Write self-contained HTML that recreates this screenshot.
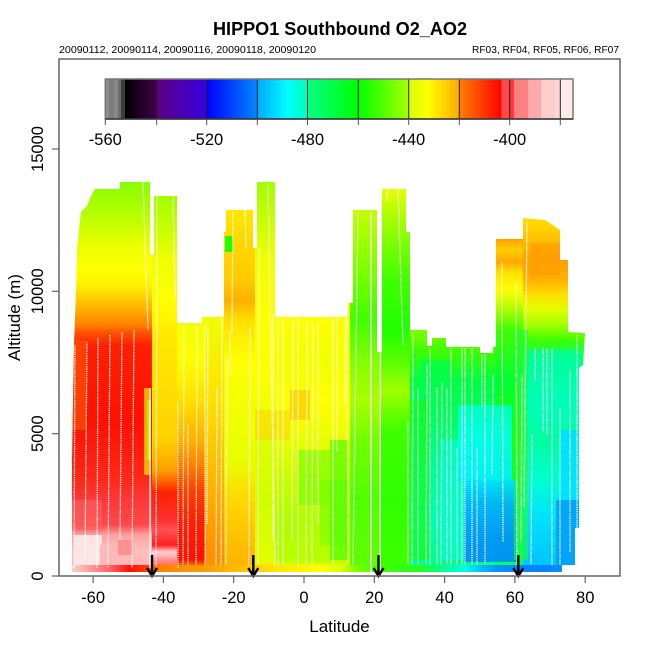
<!DOCTYPE html>
<html><head><meta charset="utf-8"><style>
html,body{margin:0;padding:0;background:#fff;}
svg{display:block;}
text{font-family:"Liberation Sans",Arial,sans-serif;fill:#000;}
</style></head><body>
<svg width="650" height="650" viewBox="0 0 650 650" xmlns="http://www.w3.org/2000/svg">
<defs>
<clipPath id="env"><polygon points="72,572 72,460 74,345 76,290 77,248 81,212 87,206 91,196 95,189 120,189 120,182 150,182 150,255 154,255 154,196 177,196 177,323 202,323 202,317 224,317 224,232 226,232 226,210 253,210 253,248 257,248 257,182 275,182 275,317 348,317 348,303 353,303 353,210 377,210 377,352 382,352 382,189 406,189 406,232 410,232 410,330 427,330 427,346 432,346 432,338 446,338 446,347 480,347 480,353 493,353 493,347 496,347 496,239 523,239 523,218 545,220 560,230 560,260 568,260 568,332 585,333 583,365 579,368 579,528 575,528 575,565 562,565 562,572"/></clipPath>
<linearGradient id="gA" gradientUnits="userSpaceOnUse" x1="0" y1="182" x2="0" y2="572">
<stop offset="0" stop-color="#88ff00"/><stop offset="0.046" stop-color="#a0ff00"/><stop offset="0.11" stop-color="#c8ff00"/><stop offset="0.162" stop-color="#eaff00"/><stop offset="0.226" stop-color="#ffff00"/><stop offset="0.265" stop-color="#fff000"/><stop offset="0.303" stop-color="#ffc800"/><stop offset="0.341" stop-color="#ffa000"/><stop offset="0.367" stop-color="#ff8000"/><stop offset="0.387" stop-color="#ff5000"/><stop offset="0.418" stop-color="#ff2000"/><stop offset="0.61" stop-color="#ff1000"/><stop offset="0.764" stop-color="#ff2818"/><stop offset="0.815" stop-color="#ff3838"/><stop offset="0.879" stop-color="#ff4848"/><stop offset="0.905" stop-color="#ffa0a0"/><stop offset="0.944" stop-color="#ffc0c0"/><stop offset="1" stop-color="#ffb0b0"/>
</linearGradient>
<linearGradient id="gB" gradientUnits="userSpaceOnUse" x1="0" y1="182" x2="0" y2="572">
<stop offset="0.036" stop-color="#a0ff00"/><stop offset="0.123" stop-color="#c8ff00"/><stop offset="0.2" stop-color="#f0ff00"/><stop offset="0.303" stop-color="#ffff00"/><stop offset="0.405" stop-color="#ffe800"/><stop offset="0.508" stop-color="#ffe000"/><stop offset="0.662" stop-color="#ffd000"/><stop offset="0.738" stop-color="#ffa000"/><stop offset="0.769" stop-color="#ff6000"/><stop offset="0.795" stop-color="#ff2000"/><stop offset="0.867" stop-color="#ff3030"/><stop offset="0.892" stop-color="#ff5050"/><stop offset="0.931" stop-color="#ff2020"/><stop offset="0.949" stop-color="#ffd0d0"/><stop offset="0.974" stop-color="#ff8080"/><stop offset="1" stop-color="#ff6000"/>
</linearGradient>
<linearGradient id="gC1" gradientUnits="userSpaceOnUse" x1="0" y1="182" x2="0" y2="572">
<stop offset="0.346" stop-color="#f0ff00"/><stop offset="0.456" stop-color="#ffff00"/><stop offset="0.559" stop-color="#ffe000"/><stop offset="0.662" stop-color="#ffb000"/><stop offset="0.726" stop-color="#ff8000"/><stop offset="0.79" stop-color="#ff4000"/><stop offset="0.867" stop-color="#ff2000"/><stop offset="0.969" stop-color="#ff1000"/><stop offset="0.985" stop-color="#ff8000"/><stop offset="1" stop-color="#ffa000"/>
</linearGradient>
<linearGradient id="gC2" gradientUnits="userSpaceOnUse" x1="0" y1="182" x2="0" y2="572">
<stop offset="0.346" stop-color="#f0ff00"/><stop offset="0.559" stop-color="#ffe000"/><stop offset="0.713" stop-color="#ffc000"/><stop offset="0.867" stop-color="#ffa000"/><stop offset="0.969" stop-color="#ff9000"/><stop offset="1" stop-color="#ffa000"/>
</linearGradient>
<linearGradient id="gD" gradientUnits="userSpaceOnUse" x1="0" y1="182" x2="0" y2="572">
<stop offset="0.072" stop-color="#ffe800"/><stop offset="0.149" stop-color="#ffd800"/><stop offset="0.251" stop-color="#ffcc00"/><stop offset="0.303" stop-color="#ffb000"/><stop offset="0.354" stop-color="#ffe000"/><stop offset="0.456" stop-color="#ffff00"/><stop offset="0.61" stop-color="#f0ff00"/><stop offset="0.713" stop-color="#e8ff00"/><stop offset="0.815" stop-color="#ffd800"/><stop offset="0.918" stop-color="#ffc000"/><stop offset="1" stop-color="#ffb000"/>
</linearGradient>
<linearGradient id="gE" gradientUnits="userSpaceOnUse" x1="0" y1="182" x2="0" y2="572">
<stop offset="0" stop-color="#a0ff00"/><stop offset="0.097" stop-color="#c8ff00"/><stop offset="0.2" stop-color="#f0ff00"/><stop offset="0.354" stop-color="#ffff00"/><stop offset="0.508" stop-color="#ffff00"/><stop offset="0.662" stop-color="#e0ff00"/><stop offset="0.815" stop-color="#d0ff00"/><stop offset="0.969" stop-color="#e0ff00"/><stop offset="1" stop-color="#ffe000"/>
</linearGradient>
<linearGradient id="gF" gradientUnits="userSpaceOnUse" x1="0" y1="182" x2="0" y2="572">
<stop offset="0.346" stop-color="#ffff00"/><stop offset="0.456" stop-color="#f4ff00"/><stop offset="0.559" stop-color="#ffff00"/><stop offset="0.662" stop-color="#e8ff00"/><stop offset="0.764" stop-color="#c8ff00"/><stop offset="0.867" stop-color="#b0ff00"/><stop offset="0.969" stop-color="#b8ff00"/><stop offset="1" stop-color="#ffff00"/>
</linearGradient>
<linearGradient id="gG" gradientUnits="userSpaceOnUse" x1="0" y1="182" x2="0" y2="572">
<stop offset="0.072" stop-color="#c0ff00"/><stop offset="0.149" stop-color="#a0ff00"/><stop offset="0.251" stop-color="#70ff00"/><stop offset="0.354" stop-color="#40ff00"/><stop offset="0.456" stop-color="#80ff00"/><stop offset="0.559" stop-color="#a8ff00"/><stop offset="0.662" stop-color="#70ff00"/><stop offset="0.815" stop-color="#50ff00"/><stop offset="1" stop-color="#60ff00"/>
</linearGradient>
<linearGradient id="gH" gradientUnits="userSpaceOnUse" x1="0" y1="182" x2="0" y2="572">
<stop offset="0.018" stop-color="#e8ff00"/><stop offset="0.059" stop-color="#c0ff00"/><stop offset="0.149" stop-color="#80ff00"/><stop offset="0.251" stop-color="#40ff00"/><stop offset="0.379" stop-color="#20ff00"/><stop offset="0.469" stop-color="#60ff00"/><stop offset="0.533" stop-color="#a0ff00"/><stop offset="0.636" stop-color="#40ff00"/><stop offset="0.815" stop-color="#30ff00"/><stop offset="1" stop-color="#40ff00"/>
</linearGradient>
<linearGradient id="gI" gradientUnits="userSpaceOnUse" x1="0" y1="182" x2="0" y2="572">
<stop offset="0.379" stop-color="#80ff00"/><stop offset="0.431" stop-color="#40ff00"/><stop offset="0.508" stop-color="#00ff40"/><stop offset="0.61" stop-color="#00ff60"/><stop offset="0.713" stop-color="#00ff90"/><stop offset="0.867" stop-color="#00ffb0"/><stop offset="1" stop-color="#00ff80"/>
</linearGradient>
<linearGradient id="gJ" gradientUnits="userSpaceOnUse" x1="0" y1="182" x2="0" y2="572">
<stop offset="0.146" stop-color="#ffa000"/><stop offset="0.174" stop-color="#ffd000"/><stop offset="0.205" stop-color="#ffa800"/><stop offset="0.231" stop-color="#ffe000"/><stop offset="0.277" stop-color="#ffff00"/><stop offset="0.315" stop-color="#c0ff00"/><stop offset="0.379" stop-color="#40ff00"/><stop offset="0.508" stop-color="#00ff30"/><stop offset="0.662" stop-color="#20ff00"/><stop offset="0.815" stop-color="#00ff40"/><stop offset="1" stop-color="#00ff60"/>
</linearGradient>
<linearGradient id="gK" gradientUnits="userSpaceOnUse" x1="0" y1="182" x2="0" y2="572">
<stop offset="0.092" stop-color="#ffe000"/><stop offset="0.149" stop-color="#ffc000"/><stop offset="0.2" stop-color="#ffa000"/><stop offset="0.251" stop-color="#ffb000"/><stop offset="0.29" stop-color="#ffe000"/><stop offset="0.328" stop-color="#e0ff00"/><stop offset="0.367" stop-color="#a0ff00"/><stop offset="0.405" stop-color="#40ff00"/><stop offset="0.456" stop-color="#00ff80"/><stop offset="0.559" stop-color="#00ffc0"/><stop offset="0.662" stop-color="#00ffa0"/><stop offset="0.764" stop-color="#00ffd0"/><stop offset="0.867" stop-color="#00e0ff"/><stop offset="1" stop-color="#00c0ff"/>
</linearGradient>
<linearGradient id="gBot" gradientUnits="userSpaceOnUse" x1="72" y1="0" x2="562" y2="0">
<stop offset="0" stop-color="#ffd0d0"/><stop offset="0.078" stop-color="#ff6060"/><stop offset="0.118" stop-color="#ff1000"/><stop offset="0.159" stop-color="#ff4000"/><stop offset="0.18" stop-color="#ff8000"/><stop offset="0.282" stop-color="#ffa000"/><stop offset="0.343" stop-color="#ffc000"/><stop offset="0.424" stop-color="#ffe800"/><stop offset="0.506" stop-color="#ffff00"/><stop offset="0.547" stop-color="#e0ff00"/><stop offset="0.578" stop-color="#80ff00"/><stop offset="0.629" stop-color="#40ff00"/><stop offset="0.71" stop-color="#20ff20"/><stop offset="0.751" stop-color="#00ff80"/><stop offset="0.802" stop-color="#00ffe0"/><stop offset="0.833" stop-color="#00c0ff"/><stop offset="0.873" stop-color="#0090ff"/><stop offset="0.955" stop-color="#0080ff"/><stop offset="1" stop-color="#0090ff"/>
</linearGradient>
<linearGradient id="gBlue" gradientUnits="userSpaceOnUse" x1="0" y1="478" x2="0" y2="562">
<stop offset="0" stop-color="#00e8ff"/><stop offset="0.3" stop-color="#00b0ff"/><stop offset="0.7" stop-color="#0090ff"/><stop offset="1" stop-color="#0088ff"/>
</linearGradient>
<linearGradient id="gCyan" gradientUnits="userSpaceOnUse" x1="0" y1="405" x2="0" y2="482">
<stop offset="0" stop-color="#00ffc8"/><stop offset="0.4" stop-color="#00fff0"/><stop offset="1" stop-color="#00f0ff"/>
</linearGradient>
<linearGradient id="cb1" x1="0" y1="0" x2="1" y2="0"><stop offset="0" stop-color="#000000"/><stop offset="1" stop-color="#400048"/></linearGradient>
<linearGradient id="cb2" x1="0" y1="0" x2="1" y2="0"><stop offset="0" stop-color="#5c0080"/><stop offset="1" stop-color="#3800e0"/></linearGradient>
<linearGradient id="cb3" x1="0" y1="0" x2="1" y2="0"><stop offset="0" stop-color="#0000ff"/><stop offset="1" stop-color="#0088ff"/></linearGradient>
<linearGradient id="cb4" x1="0" y1="0" x2="1" y2="0"><stop offset="0" stop-color="#00a8ff"/><stop offset="0.61" stop-color="#00ffff"/><stop offset="1" stop-color="#00ffb8"/></linearGradient>
<linearGradient id="cb5" x1="0" y1="0" x2="1" y2="0"><stop offset="0" stop-color="#00ff88"/><stop offset="1" stop-color="#00ff00"/></linearGradient>
<linearGradient id="cb6" x1="0" y1="0" x2="1" y2="0"><stop offset="0" stop-color="#00ff00"/><stop offset="1" stop-color="#a8ff00"/></linearGradient>
<linearGradient id="cb7" x1="0" y1="0" x2="1" y2="0"><stop offset="0" stop-color="#d8ff00"/><stop offset="0.38" stop-color="#ffff00"/><stop offset="1" stop-color="#ffaa00"/></linearGradient>
<linearGradient id="cb8" x1="0" y1="0" x2="1" y2="0"><stop offset="0" stop-color="#ff8000"/><stop offset="1" stop-color="#ff0000"/></linearGradient>
</defs>

<!-- Title and subtitles -->
<text x="340" y="35" text-anchor="middle" font-size="18" font-weight="bold" textLength="254" lengthAdjust="spacingAndGlyphs">HIPPO1 Southbound O2_AO2</text>
<text x="59" y="53" font-size="10" textLength="257" lengthAdjust="spacingAndGlyphs">20090112, 20090114, 20090116, 20090118, 20090120</text>
<text x="619" y="53" font-size="10" text-anchor="end" textLength="147" lengthAdjust="spacingAndGlyphs">RF03, RF04, RF05, RF06, RF07</text>

<!-- Data -->
<g clip-path="url(#env)">
<rect x="70" y="180" width="82" height="394" fill="url(#gA)"/>
<rect x="152" y="180" width="25" height="394" fill="url(#gB)"/>
<rect x="177" y="180" width="28" height="394" fill="url(#gC1)"/>
<rect x="205" y="180" width="19" height="394" fill="url(#gC2)"/>
<rect x="224" y="180" width="31" height="394" fill="url(#gD)"/>
<rect x="255" y="180" width="20" height="394" fill="url(#gE)"/>
<rect x="275" y="180" width="75" height="394" fill="url(#gF)"/>
<rect x="350" y="180" width="30" height="394" fill="url(#gG)"/>
<rect x="380" y="180" width="30" height="394" fill="url(#gH)"/>
<rect x="410" y="180" width="86" height="394" fill="url(#gI)"/>
<rect x="496" y="180" width="27" height="394" fill="url(#gJ)"/>
<rect x="523" y="180" width="70" height="394" fill="url(#gK)"/>
<!-- patches -->
<rect x="72" y="340" width="14" height="90" fill="#ff5000" opacity="0.7"/>
<rect x="144" y="388" width="7" height="87" fill="#ffd000" opacity="0.8"/>
<rect x="147" y="400" width="4" height="60" fill="#b0ff00" opacity="0.8"/>
<rect x="74" y="535" width="28" height="30" fill="#ffe4e4"/>
<rect x="100" y="545" width="35" height="20" fill="#ffb8b8"/>
<rect x="118" y="540" width="14" height="15" fill="#ff9090"/>
<rect x="72" y="500" width="30" height="30" fill="#ff6060" opacity="0.6"/>
<rect x="225" y="236" width="8" height="16" fill="#20ff00"/>
<rect x="298" y="450" width="32" height="55" fill="#70ff00" opacity="0.6"/>
<rect x="320" y="480" width="28" height="65" fill="#80ff00" opacity="0.7"/>
<rect x="330" y="440" width="18" height="120" fill="#50ff00" opacity="0.7"/>
<rect x="290" y="390" width="20" height="30" fill="#ffc000" opacity="0.6"/>
<rect x="255" y="410" width="35" height="30" fill="#ffd000" opacity="0.5"/>
<rect x="420" y="360" width="30" height="40" fill="#00ff50" opacity="0.7"/>
<rect x="410" y="400" width="20" height="160" fill="#10ff20" opacity="0.7"/>
<rect x="440" y="440" width="30" height="120" fill="#00ffd0" opacity="0.7"/>
<rect x="458" y="405" width="54" height="77" fill="url(#gCyan)" opacity="0.9"/>
<rect x="464" y="480" width="54" height="82" fill="url(#gBlue)" opacity="0.9"/>
<rect x="514" y="330" width="14" height="230" fill="#20ff30" opacity="0.6"/>
<rect x="529" y="350" width="50" height="60" fill="#00ffb0" opacity="0.6"/>
<rect x="560" y="430" width="22" height="70" fill="#00e0ff" opacity="0.9"/>
<rect x="556" y="500" width="24" height="66" fill="#00a0ff" opacity="0.9"/>
<rect x="530" y="243" width="30" height="33" fill="#ffa000" opacity="0.8"/>
<rect x="72" y="565" width="492" height="8" fill="url(#gBot)"/>
<!-- flight tracks -->
<g stroke="#fff" stroke-width="1.3" stroke-dasharray="1.3,0.9" fill="none">
<line x1="75" y1="345" x2="74" y2="568"/><line x1="87" y1="342" x2="85" y2="558"/><line x1="98" y1="338" x2="97" y2="568"/><line x1="110" y1="335" x2="108" y2="568"/><line x1="122" y1="332" x2="120" y2="540"/><line x1="134" y1="330" x2="132" y2="568"/><line x1="143" y1="182" x2="148" y2="330"/>
<line x1="157" y1="196" x2="156" y2="568"/><line x1="173" y1="196" x2="175" y2="298"/>
<line x1="178" y1="402" x2="178" y2="568"/><line x1="184" y1="325" x2="183" y2="565"/><line x1="188" y1="425" x2="188" y2="565"/><line x1="197" y1="325" x2="196" y2="565"/><line x1="205" y1="325" x2="205" y2="565"/><line x1="208" y1="325" x2="207" y2="525"/><line x1="217" y1="388" x2="216" y2="565"/><line x1="222" y1="318" x2="221" y2="565"/><line x1="227" y1="358" x2="226" y2="565"/>
<line x1="230" y1="332" x2="230" y2="375"/><line x1="233" y1="212" x2="232" y2="332"/><line x1="245" y1="210" x2="246" y2="248"/><line x1="250" y1="328" x2="249" y2="565"/>
<line x1="259" y1="248" x2="258" y2="565"/><line x1="268" y1="185" x2="275" y2="565"/><line x1="273" y1="315" x2="273" y2="540"/>
<line x1="278" y1="318" x2="278" y2="565"/><line x1="283" y1="318" x2="283" y2="565"/><line x1="293" y1="322" x2="292" y2="540"/><line x1="298" y1="318" x2="298" y2="565"/><line x1="307" y1="322" x2="306" y2="565"/><line x1="313" y1="322" x2="312" y2="565"/><line x1="318" y1="322" x2="318" y2="525"/>
<line x1="333" y1="318" x2="333" y2="565"/><line x1="337" y1="318" x2="337" y2="452"/><line x1="345" y1="318" x2="345" y2="405"/><line x1="347" y1="318" x2="348" y2="565"/><line x1="358" y1="212" x2="353" y2="565"/>
<line x1="387" y1="188" x2="387" y2="202"/><line x1="398" y1="188" x2="403" y2="345"/><line x1="408" y1="422" x2="408" y2="565"/><line x1="413" y1="335" x2="412" y2="565"/><line x1="418" y1="388" x2="418" y2="565"/><line x1="427" y1="365" x2="426" y2="565"/><line x1="430" y1="348" x2="430" y2="565"/><line x1="437" y1="388" x2="437" y2="565"/><line x1="442" y1="382" x2="441" y2="565"/><line x1="447" y1="388" x2="447" y2="565"/><line x1="451" y1="348" x2="451" y2="565"/><line x1="457" y1="448" x2="457" y2="565"/><line x1="462" y1="348" x2="462" y2="565"/><line x1="465" y1="348" x2="465" y2="565"/><line x1="472" y1="348" x2="472" y2="565"/><line x1="477" y1="448" x2="477" y2="565"/><line x1="482" y1="355" x2="482" y2="408"/><line x1="485" y1="355" x2="485" y2="565"/><line x1="493" y1="375" x2="492" y2="475"/><line x1="502" y1="262" x2="503" y2="542"/><line x1="516" y1="282" x2="517" y2="565"/><line x1="522" y1="375" x2="521" y2="542"/><line x1="527" y1="222" x2="524" y2="508"/><line x1="532" y1="435" x2="531" y2="565"/><line x1="535" y1="348" x2="535" y2="382"/><line x1="543" y1="348" x2="543" y2="432"/><line x1="547" y1="348" x2="547" y2="435"/><line x1="552" y1="348" x2="552" y2="565"/><line x1="560" y1="408" x2="560" y2="565"/><line x1="570" y1="370" x2="570" y2="552"/><line x1="577" y1="335" x2="577" y2="552"/>
</g>
<g stroke="#fff" stroke-width="1.3" fill="none">
<line x1="150" y1="388" x2="150" y2="568"/><line x1="371" y1="212" x2="371" y2="572"/><line x1="380.5" y1="352" x2="380" y2="572"/>
</g>
</g>

<!-- Arrows -->
<g stroke="#000" stroke-width="2.4" fill="none">
<line x1="152" y1="555" x2="152" y2="575"/><polyline points="147,568 152,576 157,568"/>
<line x1="253.3" y1="555" x2="253.3" y2="575"/><polyline points="248.3,568 253.3,576 258.3,568"/>
<line x1="378.5" y1="555" x2="378.5" y2="575"/><polyline points="373.5,568 378.5,576 383.5,568"/>
<line x1="518.3" y1="555" x2="518.3" y2="575"/><polyline points="513.3,568 518.3,576 523.3,568"/>
</g>

<!-- Colorbar -->
<g>
<rect x="105.3" y="79" width="3.7" height="40" fill="#8c8c8c"/>
<rect x="109" y="79" width="5" height="40" fill="#7c7c7c"/>
<rect x="114" y="79" width="4" height="40" fill="#888888"/>
<rect x="118" y="79" width="3" height="40" fill="#6e6e6e"/>
<rect x="121" y="79" width="4" height="40" fill="#3c3c3c"/>
<rect x="125" y="79" width="31.7" height="40" fill="url(#cb1)"/>
<rect x="156.7" y="79" width="50" height="40" fill="url(#cb2)"/>
<rect x="206.7" y="79" width="50.6" height="40" fill="url(#cb3)"/>
<rect x="257.3" y="79" width="50.2" height="40" fill="url(#cb4)"/>
<rect x="307.5" y="79" width="50.8" height="40" fill="url(#cb5)"/>
<rect x="358.3" y="79" width="50.4" height="40" fill="url(#cb6)"/>
<rect x="408.7" y="79" width="50.6" height="40" fill="url(#cb7)"/>
<rect x="459.3" y="79" width="42.4" height="40" fill="url(#cb8)"/>
<rect x="501.7" y="79" width="8.3" height="40" fill="#ff4848"/>
<rect x="510" y="79" width="4" height="40" fill="#ff3838"/>
<rect x="514" y="79" width="14" height="40" fill="#ff8080"/>
<rect x="528" y="79" width="13" height="40" fill="#ffaaaa"/>
<rect x="541" y="79" width="14" height="40" fill="#ffcccc"/>
<rect x="555" y="79" width="5" height="40" fill="#ffd6d6"/>
<rect x="560" y="79" width="13" height="40" fill="#ffeaea"/>
<g stroke="#222" stroke-width="1">
<line x1="156.7" y1="79" x2="156.7" y2="119"/><line x1="206.7" y1="79" x2="206.7" y2="119"/><line x1="257.3" y1="79" x2="257.3" y2="119"/><line x1="307.5" y1="79" x2="307.5" y2="119"/><line x1="358.3" y1="79" x2="358.3" y2="119"/><line x1="408.7" y1="79" x2="408.7" y2="119"/><line x1="459.3" y1="79" x2="459.3" y2="119"/><line x1="509.7" y1="79" x2="509.7" y2="119"/><line x1="560.3" y1="79" x2="560.3" y2="119"/>
</g>
<rect x="105.3" y="79" width="467.7" height="40" fill="none" stroke="#777" stroke-width="1.5"/>
<line x1="105.3" y1="119" x2="573" y2="119" stroke="#222" stroke-width="1.2"/>
<g stroke="#555" stroke-width="1">
<line x1="105.3" y1="119" x2="105.3" y2="125"/><line x1="156.7" y1="119" x2="156.7" y2="125"/><line x1="206.7" y1="119" x2="206.7" y2="125"/><line x1="257.3" y1="119" x2="257.3" y2="125"/><line x1="307.5" y1="119" x2="307.5" y2="125"/><line x1="358.3" y1="119" x2="358.3" y2="125"/><line x1="408.7" y1="119" x2="408.7" y2="125"/><line x1="459.3" y1="119" x2="459.3" y2="125"/><line x1="509.7" y1="119" x2="509.7" y2="125"/><line x1="560.3" y1="119" x2="560.3" y2="125"/>
</g>
<g font-size="16.5" text-anchor="middle">
<text x="105.3" y="145">-560</text><text x="206.7" y="145">-520</text><text x="307.5" y="145">-480</text><text x="408.7" y="145">-440</text><text x="509.7" y="145">-400</text>
</g>
</g>

<!-- Box and axes -->
<rect x="59" y="59" width="561" height="517" fill="none" stroke="#666" stroke-width="1.5"/>
<g stroke="#666" stroke-width="1.2">
<line x1="52" y1="576" x2="59" y2="576"/><line x1="52" y1="433.7" x2="59" y2="433.7"/><line x1="52" y1="291.3" x2="59" y2="291.3"/><line x1="52" y1="149" x2="59" y2="149"/>
<line x1="93.1" y1="576" x2="93.1" y2="583"/><line x1="163.4" y1="576" x2="163.4" y2="583"/><line x1="233.7" y1="576" x2="233.7" y2="583"/><line x1="304" y1="576" x2="304" y2="583"/><line x1="374.3" y1="576" x2="374.3" y2="583"/><line x1="444.6" y1="576" x2="444.6" y2="583"/><line x1="514.9" y1="576" x2="514.9" y2="583"/><line x1="585.2" y1="576" x2="585.2" y2="583"/>
</g>
<g font-size="16.5" text-anchor="middle">
<text x="93.1" y="603">-60</text><text x="163.4" y="603">-40</text><text x="233.7" y="603">-20</text><text x="304" y="603">0</text><text x="374.3" y="603">20</text><text x="444.6" y="603">40</text><text x="514.9" y="603">60</text><text x="585.2" y="603">80</text>
</g>
<g font-size="16.5" text-anchor="middle">
<text transform="translate(43,576) rotate(-90)">0</text>
<text transform="translate(43,433.7) rotate(-90)">5000</text>
<text transform="translate(43,291.3) rotate(-90)">10000</text>
<text transform="translate(43,149) rotate(-90)">15000</text>
</g>
<text x="339.5" y="632" font-size="17" text-anchor="middle">Latitude</text>
<text transform="translate(20,317.5) rotate(-90)" font-size="17" text-anchor="middle">Altitude (m)</text>
</svg>
</body></html>
